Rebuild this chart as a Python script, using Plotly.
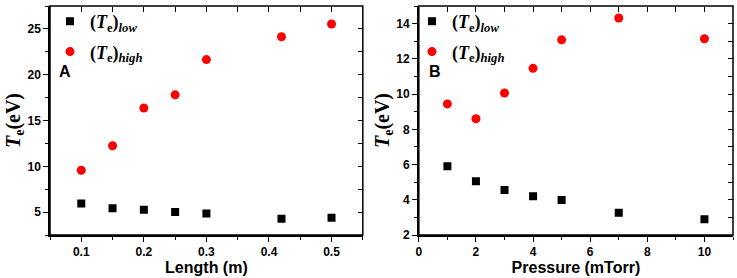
import plotly.graph_objects as go

# Panel A data
length_m = [0.1, 0.15, 0.2, 0.25, 0.3, 0.42, 0.5]
te_low_A = [5.93, 5.43, 5.25, 5.0, 4.85, 4.28, 4.38]
te_high_A = [9.57, 12.24, 16.36, 17.8, 21.65, 24.14, 25.54]

# Panel B data
pressure_mtorr = [1, 2, 3, 4, 5, 7, 10]
te_low_B = [5.9, 5.05, 4.56, 4.2, 3.98, 3.27, 2.9]
te_high_B = [9.44, 8.6, 10.06, 11.46, 13.08, 14.32, 13.14]

low_name = "(<i>T</i><sub>e</sub>)<sub><i>low</i></sub>"
high_name = "(<i>T</i><sub>e</sub>)<sub><i>high</i></sub>"

fig = go.Figure()

sq = dict(symbol="square", size=8, color="black")
ci = dict(symbol="circle", size=9, color="#ff0000")

fig.add_trace(go.Scatter(x=length_m, y=te_low_A, mode="markers", marker=sq, name=low_name,
                         xaxis="x", yaxis="y", legend="legend", legendgroup="a1"))
# high series on twin axes (same ranges) that carry the top/right inside ticks
fig.add_trace(go.Scatter(x=length_m, y=te_high_A, mode="markers", marker=ci, name=high_name,
                         xaxis="x3", yaxis="y3", legend="legend", legendgroup="a2"))
fig.add_trace(go.Scatter(x=pressure_mtorr, y=te_low_B, mode="markers", marker=sq, name=low_name,
                         xaxis="x2", yaxis="y2", legend="legend2", legendgroup="b1"))
fig.add_trace(go.Scatter(x=pressure_mtorr, y=te_high_B, mode="markers", marker=ci, name=high_name,
                         xaxis="x4", yaxis="y4", legend="legend2", legendgroup="b2"))

tickfont = dict(family="Arial, Liberation Sans", size=12, color="black", weight="bold")
titlefont_x = dict(family="Arial, Liberation Sans", size=16, color="black", weight="bold")
titlefont_y = dict(family="Times New Roman, Liberation Serif", size=20, color="black", weight="bold")

common = dict(showline=True, linecolor="black", linewidth=1.5, showgrid=False,
              zeroline=False, ticks="outside", ticklen=5, tickwidth=1.2, tickcolor="black",
              tickfont=tickfont)
minor_out = dict(ticks="outside", ticklen=3, tickwidth=1.2, tickcolor="black")
twin = dict(showline=False, showgrid=False, zeroline=False, ticks="inside", ticklen=5,
            tickwidth=1.2, tickcolor="black", showticklabels=False, anchor="free")

domA = [0.0, 0.458]
domB = [0.540, 1.0]

ylab = "<i>T</i><sub>e</sub>(eV)"
legfont = dict(family="Times New Roman, Liberation Serif", size=18, color="black", weight="bold")
lblfont = dict(family="Arial, Liberation Sans", size=16, color="black", weight="bold")

frame = dict(type="rect", x0=0, x1=1, y0=0, y1=1, layer="above",
             line=dict(color="black", width=1.5), fillcolor="rgba(0,0,0,0)")

fig.update_layout(
    width=737, height=278,
    margin=dict(l=50, r=4, t=3, b=43),
    paper_bgcolor="white", plot_bgcolor="white",
    xaxis=dict(domain=domA, range=[0.05, 0.55], tickvals=[0.1, 0.2, 0.3, 0.4, 0.5],
               ticktext=["0.1", "0.2", "0.3", "0.4", "0.5"], anchor="y",
               minor=dict(dtick=0.05, tick0=0.05, **minor_out),
               title=dict(text="Length (m)", font=titlefont_x, standoff=2), **common),
    yaxis=dict(domain=[0, 1], range=[2.5, 27.5], dtick=5, anchor="x",
               minor=dict(dtick=2.5, **minor_out),
               title=dict(text=ylab, font=titlefont_y, standoff=1), **common),
    xaxis3=dict(range=[0.05, 0.55], overlaying="x", side="top", position=1.0,
                dtick=0.05, tick0=0.05, **twin),
    yaxis3=dict(range=[2.5, 27.5], overlaying="y", side="right", position=domA[1],
                dtick=2.5, **twin),
    xaxis2=dict(domain=domB, range=[0, 11], dtick=2, anchor="y2",
                minor=dict(dtick=1, **minor_out),
                title=dict(text="Pressure (mTorr)", font=titlefont_x, standoff=2), **common),
    yaxis2=dict(domain=[0, 1], range=[2, 15], dtick=2, anchor="x2",
                minor=dict(dtick=1, **minor_out),
                title=dict(text=ylab, font=titlefont_y, standoff=1), **common),
    xaxis4=dict(range=[0, 11], overlaying="x2", side="top", position=1.0,
                dtick=1, **twin),
    yaxis4=dict(range=[2, 15], overlaying="y2", side="right", position=domB[1],
                dtick=1, **twin),
    legend=dict(x=0.0, y=1.013, xanchor="left", yanchor="top", bgcolor="rgba(0,0,0,0)",
                font=legfont, tracegroupgap=4, itemwidth=30),
    legend2=dict(x=0.530, y=1.013, xanchor="left", yanchor="top", bgcolor="rgba(0,0,0,0)",
                 font=legfont, tracegroupgap=4, itemwidth=30),
    showlegend=True,
    shapes=[dict(xref="x domain", yref="y domain", **frame),
            dict(xref="x2 domain", yref="y2 domain", **frame)],
    annotations=[
        dict(text="A", x=0.022, y=0.715, xref="paper", yref="paper", showarrow=False,
             xanchor="center", yanchor="middle", font=lblfont),
        dict(text="B", x=0.564, y=0.715, xref="paper", yref="paper", showarrow=False,
             xanchor="center", yanchor="middle", font=lblfont),
    ],
)

fig.write_html("out.html", config={"displayModeBar": False},
               post_script="document.body.style.margin='0';")
